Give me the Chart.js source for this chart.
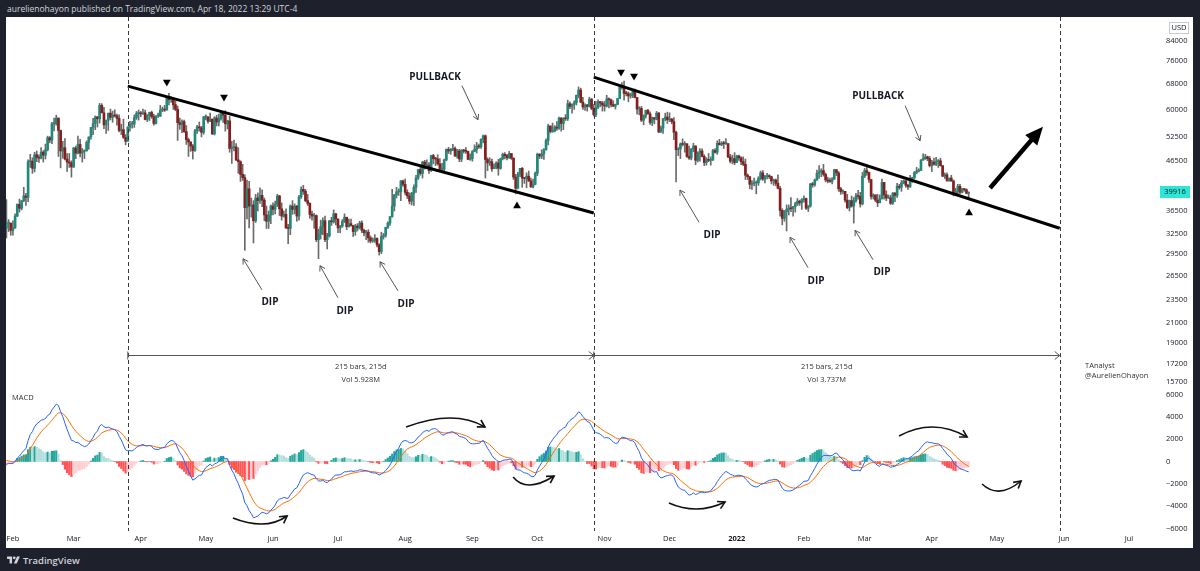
<!DOCTYPE html>
<html>
<head>
<meta charset="utf-8">
<title>BTCUSD daily - trendline breakouts</title>
<script src="https://cdn.jsdelivr.net/npm/chart.js@4.4.0/dist/chart.umd.min.js"></script>
<style>
  html, body { margin: 0; padding: 0; width: 1200px; height: 571px; overflow: hidden; background: #1e212b; font-family: "Open Sans", sans-serif; }
  #head { position: absolute; left: 7px; top: 2px; color: #d1d4dc; font-size: 8.5px; line-height: 14px; white-space: nowrap; }
  #wrap { position: absolute; left: 6px; top: 17px; width: 1187px; height: 531px; background: #fff; }
  #foot { position: absolute; left: 7px; top: 553px; height: 14px; display: flex; align-items: center; color: #d1d4dc; font-size: 9.5px; font-weight: 600; }
  #foot svg { margin-right: 3px; }
</style>
</head>
<body>
<div id="head">aurelienohayon published on TradingView.com, Apr 18, 2022 13:29 UTC-4</div>
<div id="wrap"><canvas id="chart" width="1187" height="531"></canvas></div>
<div id="foot">
  <svg width="13" height="10" viewBox="0 0 36 28"><path d="M14 24H7V11H0V4h14z" fill="#d1d4dc"/><circle cx="20" cy="8" r="4" fill="#d1d4dc"/><path d="M28 4h8l-9 20h-8z" fill="#d1d4dc"/></svg>
  <span>TradingView</span>
</div>
<script>
// days are counted from Jan 1 2021 (day 0); first drawn candle is Jan 29 2021
const firstDay = 28;

// closes before the first candle, only used to warm up the MACD averages (Jan 1 - Jan 28 2021)
const warmupClose = [29.4,32.2,33.0,32.0,34.0,36.8,39.4,40.6,40.2,38.3,35.5,34.0,37.4,39.1,36.8,36.0,35.8,36.6,36.0,35.5,30.8,33.0,32.1,32.3,32.5,32.5,30.4,33.4];

// daily closes, thousands of USD
const closeK = [
  34.3,34.3,33.1, // Jan 29-31
  33.5,35.5,37.6,36.9,38.3,39.2,38.9,46.4,46.5,44.9,48.0,47.4,47.2,48.6,47.9,49.2,52.2,51.6,55.9,55.9,57.5,54.1,48.9,49.7,47.0,46.3,46.1,45.2, // Feb
  49.6,48.4,50.5,48.4,48.8,48.9,51.0,52.4,54.9,56.0,57.8,57.3,61.2,59.0,55.6,56.9,58.9,57.7,58.3,58.1,57.4,54.1,54.3,52.3,51.3,55.0,55.8,55.8,57.6,58.8,58.8, // Mar
  58.7,59.0,57.1,58.2,59.1,57.9,56.0,58.1,58.1,59.8,59.9,59.8,63.5,62.9,63.2,61.4,60.0,56.2,55.7,56.5,53.8,51.7,51.1,50.1,49.0,54.0,55.0,54.8,53.6,57.8, // Apr
  57.8,56.6,57.2,53.2,57.5,56.4,57.4,58.9,58.3,55.9,56.7,49.5,49.7,49.9,46.8,46.4,43.6,42.9,37.0,40.6,37.3,37.5,34.7,38.8,38.3,39.3,38.4,35.7,34.6,35.7,37.3, // May
  36.7,37.6,39.2,36.8,35.5,35.8,33.5,33.4,37.3,36.7,37.3,35.5,39.0,40.5,40.1,38.3,37.8,35.8,35.5,35.6,31.6,32.5,33.7,34.7,31.6,32.2,34.7,34.5,35.9,35.0, // Jun
  33.5,33.8,34.6,35.3,33.7,34.2,33.9,32.9,33.8,33.5,34.3,33.1,32.7,32.8,31.9,31.4,31.5,31.8,30.8,29.8,32.1,32.3,33.6,34.3,35.4,37.3,39.4,40.0,40.0,42.2,41.5, // Jul
  39.9,39.2,38.2,39.7,40.9,42.8,44.6,43.8,46.3,45.6,45.6,44.4,47.8,47.1,47.0,45.9,44.7,44.7,46.8,49.3,48.9,49.3,49.5,47.7,48.9,47.0,49.1,48.9,48.8,46.9,47.1, // Aug
  48.8,49.3,50.0,49.9,51.8,52.7,46.9,46.1,46.4,44.8,45.2,46.1,44.9,47.1,48.1,47.8,47.3,48.3,47.2,43.0,40.7,43.6,44.9,42.8,42.7,43.2,42.2,41.0,41.5,43.8, // Sep
  48.1,47.7,48.2,49.2,51.5,55.3,53.8,53.9,55.0,54.7,57.5,56.0,57.4,57.3,61.7,60.9,61.5,62.0,64.3,66.0,62.2,60.7,61.3,60.9,63.1,60.3,58.5,60.6,62.3,61.9,61.3, // Oct
  61.0,63.2,62.9,61.4,61.0,61.5,63.3,67.5,66.9,64.9,64.8,64.1,64.4,65.5,63.6,60.1,60.3,56.9,58.1,59.7,58.7,56.3,57.6,57.2,58.9,53.7,54.7,57.3,57.8,57.0, // Nov
  57.2,56.5,53.6,49.2,49.4,50.6,50.5,50.6,47.6,47.2,49.4,50.1,46.7,48.4,48.9,47.6,46.2,46.9,46.7,46.9,49.0,48.6,50.8,50.4,50.8,50.7,50.7,47.5,46.5,47.1,46.2, // Dec
  47.7,47.3,46.4,45.8,43.4,43.1,41.5,41.7,41.8,41.8,42.7,43.9,42.6,43.1,43.2,43.1,42.2,42.4,41.7,40.7,36.5,35.1,36.3,36.7,36.9,36.8,37.2,37.7,38.2,37.9,38.5, // Jan 2022
  38.7,36.9,37.3,41.6,41.4,42.4,43.8,44.1,44.4,43.6,42.4,42.2,42.1,42.6,44.6,43.9,40.6,40.0,40.1,38.4,37.0,38.3,37.3,38.3,39.2,39.1,37.7,43.2, // Feb
  44.4,44.0,42.5,39.1,39.4,38.4,37.9,38.7,41.9,39.4,38.8,38.8,37.8,39.7,39.3,41.1,40.9,41.8,42.2,41.3,41.0,42.4,42.9,44.0,44.3,44.5,46.8,47.1,47.5,47.1,45.5, // Mar
  46.3,45.8,46.4,46.6,45.5,43.2,43.5,42.3,42.8,42.2,39.5,40.1,41.1,39.9,40.5,40.4,39.7,39.916 // Apr 1-18
];

const highK = [
  38.5,34.9,34.3,
  34.7,35.9,37.7,38.6,38.3,40.9,39.7,46.8,48.1,47.3,48.6,48.9,48.0,49.7,49.0,50.6,52.6,52.5,56.3,57.5,58.3,57.5,54.2,51.3,52.0,48.3,48.3,46.6,
  49.8,50.1,52.6,51.8,49.5,49.2,51.4,52.4,54.9,57.4,58.1,58.0,61.8,61.7,60.6,56.9,58.9,60.1,59.5,59.9,58.6,58.4,55.8,57.2,53.0,55.1,56.6,56.6,58.4,59.4,59.8,
  59.4,60.1,59.8,58.5,59.2,59.5,58.6,58.2,58.9,61.2,60.7,61.2,63.8,64.9,63.8,63.6,62.5,61.0,57.5,57.0,56.9,55.4,52.1,51.2,50.5,54.4,55.5,56.4,55.2,58.0,
  58.4,57.9,58.9,57.2,57.9,58.3,58.6,59.5,59.2,59.6,56.9,58.0,51.3,51.6,50.7,49.7,46.6,45.8,43.5,42.4,42.1,38.8,38.3,39.5,39.8,40.8,40.4,38.8,37.3,36.4,37.5,
  37.9,38.2,39.5,39.3,37.9,36.4,36.8,34.1,37.5,38.3,37.7,37.4,39.3,41.0,41.3,40.5,39.5,37.9,36.4,36.0,35.7,33.3,34.8,35.2,35.5,32.6,34.7,35.3,36.6,36.0,
  35.0,33.9,34.9,35.9,35.3,35.0,35.0,33.9,34.1,34.2,34.6,34.7,33.3,33.1,33.2,32.2,31.9,32.4,31.9,31.0,32.8,32.6,33.6,34.5,35.4,40.5,39.5,40.9,40.6,42.3,42.4,
  42.6,40.4,39.8,39.9,41.4,43.4,44.7,45.3,46.5,46.7,46.8,46.2,47.9,48.1,47.4,48.0,47.1,46.0,47.0,49.4,49.8,49.5,50.5,49.9,49.3,49.3,49.2,49.3,49.7,48.9,48.2,
  49.0,50.4,51.0,50.6,51.9,52.9,52.9,47.3,47.3,47.0,45.9,46.4,46.9,47.2,48.4,48.5,48.1,48.8,48.3,47.3,43.6,44.0,44.9,45.1,42.9,43.9,44.3,42.8,42.6,44.1,
  48.4,48.3,49.2,49.5,51.9,55.8,55.3,56.1,55.4,56.5,57.8,57.6,57.6,58.5,62.8,62.3,61.7,62.6,64.4,67.0,66.6,63.7,61.7,61.5,63.7,63.3,61.5,62.4,62.9,62.4,62.4,
  62.4,64.3,63.5,63.1,62.6,61.6,63.3,67.8,68.5,69.0,65.6,65.4,65.0,65.6,66.3,63.6,60.8,60.9,58.4,59.8,60.0,59.3,57.8,57.6,59.4,59.1,55.3,57.4,58.9,59.2,
  59.0,57.4,57.6,53.9,49.7,50.9,51.9,51.2,50.8,50.1,49.5,50.8,50.2,48.7,49.5,49.4,48.0,47.3,48.3,47.5,49.3,49.5,51.4,51.8,51.2,51.3,52.0,50.7,48.1,47.9,48.5,
  47.9,47.9,47.5,47.5,47.0,43.7,43.1,42.3,42.8,42.2,43.1,44.3,44.4,43.4,43.8,43.5,43.2,42.6,42.6,43.5,41.1,36.8,36.5,37.5,37.5,38.9,37.2,38.0,38.7,38.4,38.7,
  39.2,38.8,37.4,41.7,41.9,42.6,44.5,45.5,44.8,45.8,43.9,43.0,42.8,42.9,44.7,44.6,44.2,40.9,40.4,40.1,39.5,38.4,39.2,38.9,39.7,40.3,39.9,44.0,
  44.9,45.4,44.1,42.5,39.6,39.4,39.5,39.4,42.6,41.9,40.2,39.4,39.3,39.9,39.9,41.7,41.5,42.3,42.4,42.3,41.5,43.4,43.0,44.2,45.1,44.8,46.9,48.2,48.1,47.7,47.6,
  46.7,47.2,47.4,46.9,47.2,45.5,43.9,43.9,42.8,43.4,42.4,40.7,41.5,41.5,40.7,40.7,40.6,40.0
];

const lowK = [
  31.9,32.9,32.3,
  32.3,33.4,35.4,36.2,36.6,38.1,37.4,38.1,45.1,43.8,44.1,46.4,46.2,47.0,46.3,47.0,48.9,50.9,50.7,54.0,55.5,47.6,45.0,47.2,46.8,44.2,45.1,43.0,
  45.1,47.1,48.2,47.5,46.3,47.1,48.9,49.3,51.8,53.0,54.3,55.0,56.1,59.0,54.6,53.3,54.1,57.0,56.3,57.8,55.5,53.7,53.0,52.0,50.4,51.3,53.9,54.7,54.9,57.1,56.9,
  57.9,58.5,57.0,56.5,56.8,57.4,55.5,55.8,57.7,57.9,59.3,59.4,59.8,61.3,62.1,60.0,59.6,51.5,54.4,53.5,53.6,50.5,47.6,48.8,47.0,48.8,53.3,53.9,52.4,53.1,
  57.0,56.1,56.5,53.0,52.9,55.3,55.3,56.9,56.3,53.9,54.5,48.6,46.0,48.9,46.6,43.8,42.1,42.3,30.0,35.0,33.5,35.3,31.1,34.4,36.4,37.8,37.2,34.7,33.4,33.4,34.2,
  35.7,35.9,37.2,35.6,34.8,35.3,33.4,31.0,32.4,35.8,35.9,34.6,34.8,38.7,39.5,38.1,37.4,35.1,34.8,33.4,31.3,28.8,31.7,32.4,31.3,30.2,32.0,33.9,34.3,34.0,
  32.7,32.7,33.6,34.4,33.2,33.6,33.8,32.1,32.3,33.0,33.3,32.7,32.2,31.6,31.2,31.1,31.2,31.2,30.5,29.3,29.5,31.7,32.0,33.4,33.9,35.3,36.4,38.8,39.3,38.3,41.1,
  39.4,38.7,37.7,37.5,37.4,39.9,42.5,43.4,42.8,44.7,45.3,43.8,44.2,45.9,45.5,45.6,44.4,44.2,43.9,46.6,48.3,48.1,49.0,47.6,47.2,46.4,46.4,48.4,48.3,46.9,46.7,
  46.5,48.7,48.4,49.5,49.5,50.9,42.8,44.4,45.5,44.2,44.8,44.8,43.4,44.7,46.8,47.0,46.8,47.1,46.9,42.5,39.6,40.6,43.1,40.9,41.7,40.8,42.1,40.9,40.8,41.4,
  43.3,47.1,47.1,46.9,49.1,50.4,53.4,53.6,53.7,54.1,54.4,53.9,54.3,56.8,56.8,60.2,58.9,60.0,61.3,63.5,62.0,60.0,59.7,59.5,60.7,59.9,58.1,57.9,60.2,60.8,59.5,
  59.5,60.7,60.4,60.7,60.8,60.1,61.4,63.3,66.3,62.8,64.1,62.3,63.4,63.6,63.5,58.6,58.4,56.5,55.6,57.5,58.6,55.7,55.4,55.9,57.0,53.5,53.6,53.3,56.7,56.0,
  56.5,55.9,51.7,42.0,47.8,47.1,50.1,48.6,47.4,46.9,46.8,48.7,45.7,46.3,46.5,47.5,45.5,45.6,46.4,45.6,46.6,48.4,48.1,50.4,50.2,49.5,50.5,47.3,46.1,45.9,45.7,
  46.2,46.7,45.7,45.5,42.5,42.5,40.6,40.5,41.2,39.6,41.3,42.4,42.3,41.8,42.6,42.7,41.6,41.3,41.2,40.6,35.5,34.0,34.6,33.0,35.7,36.3,35.5,36.2,37.4,37.4,36.7,
  38.0,36.7,36.3,37.1,40.9,41.1,42.3,42.7,43.1,43.2,42.0,41.8,41.9,41.6,42.5,43.3,40.1,39.5,39.6,38.0,36.8,36.4,37.1,34.3,38.0,38.6,37.1,37.5,
  42.9,43.4,41.9,38.6,38.6,38.1,37.2,37.9,38.6,38.6,38.3,38.7,37.6,37.6,38.1,38.9,40.5,40.1,41.6,40.9,40.5,40.9,41.9,42.6,43.7,44.1,44.4,46.7,46.9,46.6,45.2,
  44.2,45.6,45.5,45.1,45.4,43.1,42.7,42.1,42.1,42.1,39.2,39.3,39.6,39.6,39.8,40.1,39.6,38.6
];

const lastPrice = 39916;
const priceTicks = [15700, 17200, 19000, 21000, 23500, 26500, 29500, 32500, 36500, 46500, 52500, 60000, 68000, 76000, 84000];
const macdTicks = [-6000, -4000, -2000, 0, 2000, 4000, 6000];
const monthDays = [31, 59, 90, 120, 151, 181, 212, 243, 273, 304, 334, 365, 396, 424, 455, 485, 516, 546];
const monthLabels = ['Feb', 'Mar', 'Apr', 'May', 'Jun', 'Jul', 'Aug', 'Sep', 'Oct', 'Nov', 'Dec', '2022', 'Feb', 'Mar', 'Apr', 'May', 'Jun', 'Jul'];

// drawings, in [day, price] or [day, macd]
const sessionDays = [84, 299, 514];
const trend1 = [[84, 67290], [299, 36040]];
const trend2 = [[299, 70300], [514, 33440]];
const topMarks = [[102, 68620], [128.4, 63740], [311.6, 72150], [317.6, 70740]];
const bottomMarks = [[263.6, 37290], [472.2, 36040]];
const dipText = [[149.6, 23290], [184.2, 22280], [212.4, 23060], [353.6, 32290], [401.6, 25830], [432, 27000]];
const dipArrows = [[145.9, 24700, 137.2, 28780], [181, 23750, 172.7, 27810], [208.7, 24580, 200.4, 28360],
                   [347.6, 34420, 338.8, 40350], [397.9, 27540, 389.6, 31980], [427.9, 28640, 419.6, 33090]];
const pullText = [[225.8, 70450], [430.2, 64160]];
const pullArrows = [[238.2, 67400, 245.6, 57030], [442.7, 61100, 449.6, 51420]];
const bigArrow = [481.9, 40750, 506.3, 55100];
const measures = [
  { from: 84, to: 299, bars: '215 bars, 215d', vol: 'Vol 5.928M' },
  { from: 299, to: 514, bars: '215 bars, 215d', vol: 'Vol 3.737M' }
];
const measureLevel = 17940, measureBarsAt = 16910, measureVolAt = 15860;
const signature = [[525.7, 16990, 'TAnalyst'], [525.7, 16180, '@AurelienOhayon']];
const macdArcs = [ // start, apex, end
  [132.5, -5067, 146.4, -5606, 157.5, -4888],
  [212.4, 3094, 232.7, 3901, 248.8, 3094],
  [261.8, -1390, 269.6, -2108, 280.7, -1300],
  [333.7, -3722, 346.7, -4260, 359.6, -3633],
  [439.9, 2287, 455.6, 3094, 471.3, 2197],
  [478.2, -2018, 486.5, -2646, 496.2, -1749]
];

const upColor = '#22897a';
const downColor = '#861e1e';
const wickColor = '#6b6b6b';

// candles
const wickData = [], bodyData = [], bodyColors = [];
closeK.forEach((c, i) => {
  const o = i === 0 ? warmupClose[warmupClose.length - 1] : closeK[i - 1];
  const hi = Math.max(highK[i] || c, o, c);
  const lo = Math.min(lowK[i] || c, o, c);
  const d = firstDay + i;
  wickData.push({ x: d, y: [lo * 1000, hi * 1000] });
  bodyData.push({ x: d, y: [o * 1000, c * 1000] });
  bodyColors.push(c >= o ? upColor : downColor);
});

// MACD 12 26 9 from the closes
function ema(src, len) {
  const a = 2 / (len + 1);
  const out = [];
  let e = src[0];
  src.forEach((v, i) => {
    e = i === 0 ? v : a * v + (1 - a) * e;
    out.push(e);
  });
  return out;
}
const allClose = warmupClose.concat(closeK).map(v => v * 1000);
const fast = ema(allClose, 12);
const slow = ema(allClose, 26);
const macdAll = fast.map((v, i) => v - slow[i]);
const signalAll = ema(macdAll, 9);
const histAll = macdAll.map((v, i) => v - signalAll[i]);
const skip = warmupClose.length;
const macdData = [], signalData = [], histData = [], histColors = [];
for (let i = skip; i < allClose.length; i++) {
  const d = firstDay + i - skip;
  macdData.push({ x: d, y: macdAll[i] });
  signalData.push({ x: d, y: signalAll[i] });
  histData.push({ x: d, y: histAll[i] });
  const h = histAll[i], prev = histAll[i - 1];
  if (h >= 0) histColors.push(prev < h ? '#26a69a' : '#b2dfdb');
  else histColors.push(prev < h ? '#ffcdd2' : '#ff5252');
}

function arrowHead(ctx, x1, y1, x2, y2, len, wid, filled) {
  const a = Math.atan2(y2 - y1, x2 - x1);
  const bx = x2 - len * Math.cos(a), by = y2 - len * Math.sin(a);
  ctx.beginPath();
  ctx.moveTo(bx + wid * Math.sin(a), by - wid * Math.cos(a));
  ctx.lineTo(x2, y2);
  ctx.lineTo(bx - wid * Math.sin(a), by + wid * Math.cos(a));
  if (filled) { ctx.closePath(); ctx.fill(); } else ctx.stroke();
}

const drawings = {
  id: 'drawings',
  afterDatasetsDraw(chart) {
    const { ctx, chartArea } = chart;
    const xs = chart.scales.x, yp = chart.scales.y, ym = chart.scales.y2;
    const X = d => xs.getPixelForValue(d);
    ctx.save();

    // session separators
    ctx.strokeStyle = '#3a3a3a';
    ctx.lineWidth = 1;
    ctx.setLineDash([4, 3]);
    sessionDays.forEach(d => {
      const px = Math.round(X(d)) + 0.5;
      ctx.beginPath();
      ctx.moveTo(px, chartArea.top);
      ctx.lineTo(px, chartArea.bottom);
      ctx.stroke();
    });
    ctx.setLineDash([]);

    // date range measures
    ctx.strokeStyle = '#555';
    ctx.fillStyle = '#333';
    ctx.font = '7.5px "Open Sans"';
    ctx.textAlign = 'center';
    ctx.textBaseline = 'middle';
    const my = Math.round(yp.getPixelForValue(measureLevel)) + 0.5;
    measures.forEach(m => {
      const x1 = X(m.from), x2 = X(m.to);
      ctx.beginPath();
      ctx.moveTo(x1, my); ctx.lineTo(x2, my);
      ctx.moveTo(x1, my - 4); ctx.lineTo(x1, my + 4);
      ctx.stroke();
      arrowHead(ctx, x1, my, x2, my, 5, 4, false);
      const cx = (x1 + x2) / 2;
      ctx.fillText(m.bars, cx, yp.getPixelForValue(measureBarsAt));
      ctx.fillText(m.vol, cx, yp.getPixelForValue(measureVolAt));
    });

    ctx.textAlign = 'left';
    signature.forEach(s => ctx.fillText(s[2], X(s[0]), yp.getPixelForValue(s[1])));
    ctx.fillText('MACD', X(30.6), ym.getPixelForValue(5695));

    // thin pointer arrows
    ctx.strokeStyle = '#555';
    ctx.lineWidth = 1;
    dipArrows.concat(pullArrows).forEach(a => {
      const x1 = X(a[0]), y1 = yp.getPixelForValue(a[1]);
      const x2 = X(a[2]), y2 = yp.getPixelForValue(a[3]);
      ctx.beginPath(); ctx.moveTo(x1, y1); ctx.lineTo(x2, y2); ctx.stroke();
      arrowHead(ctx, x1, y1, x2, y2, 5, 3, false);
    });

    // labels
    ctx.fillStyle = '#131722';
    ctx.font = 'bold 10px "Open Sans"';
    ctx.textAlign = 'center';
    dipText.forEach(t => ctx.fillText('DIP', X(t[0]), yp.getPixelForValue(t[1])));
    pullText.forEach(t => ctx.fillText('PULLBACK', X(t[0]), yp.getPixelForValue(t[1])));

    // big arrow
    {
      const x1 = X(bigArrow[0]), y1 = yp.getPixelForValue(bigArrow[1]);
      const x2 = X(bigArrow[2]), y2 = yp.getPixelForValue(bigArrow[3]);
      const a = Math.atan2(y2 - y1, x2 - x1);
      ctx.strokeStyle = '#000';
      ctx.fillStyle = '#000';
      ctx.lineWidth = 4.5;
      ctx.beginPath();
      ctx.moveTo(x1, y1);
      ctx.lineTo(x2 - 12 * Math.cos(a), y2 - 12 * Math.sin(a));
      ctx.stroke();
      arrowHead(ctx, x1, y1, x2, y2, 18, 8, true);
    }

    // curved arrows on the MACD pane
    ctx.strokeStyle = '#111';
    ctx.lineWidth = 1.6;
    macdArcs.forEach(c => {
      const sx = X(c[0]), sy = ym.getPixelForValue(c[1]);
      const mx = X(c[2]), my2 = ym.getPixelForValue(c[3]);
      const ex = X(c[4]), ey = ym.getPixelForValue(c[5]);
      const cx = 2 * mx - (sx + ex) / 2, cy = 2 * my2 - (sy + ey) / 2;
      ctx.beginPath();
      ctx.moveTo(sx, sy);
      ctx.quadraticCurveTo(cx, cy, ex, ey);
      ctx.stroke();
      arrowHead(ctx, cx, cy, ex, ey, 7, 4, false);
    });

    ctx.restore();
  },
  afterDraw(chart) {
    const { ctx } = chart;
    const yp = chart.scales.y;
    ctx.save();
    // last price tag
    const py = Math.round(yp.getPixelForValue(lastPrice));
    ctx.fillStyle = '#2ee6d6';
    ctx.fillRect(yp.left, py - 6, 30, 12);
    ctx.fillStyle = '#131722';
    ctx.font = '7.5px "Open Sans"';
    ctx.textAlign = 'center';
    ctx.textBaseline = 'middle';
    ctx.fillText(String(lastPrice), yp.left + 15, py);
    // currency box
    ctx.strokeStyle = '#c9cbd1';
    ctx.lineWidth = 1;
    ctx.strokeRect(yp.left + 9.5, 5.5, 19, 11);
    ctx.fillText('USD', yp.left + 19, 11);
    ctx.restore();
  }
};

const axisFont = { size: 7.5, family: '"Open Sans"' };
// keep the plot flush with the frame: no room reserved for half tick labels
const noPad = s => { s.paddingLeft = 0; s.paddingRight = 0; s.paddingTop = 0; s.paddingBottom = 0; };

new Chart(document.getElementById('chart'), {
  type: 'bar',
  data: {
    datasets: [
      { type: 'line', yAxisID: 'y', data: trend1.map(p => ({ x: p[0], y: p[1] })), borderColor: '#000', borderWidth: 3, pointRadius: 0, order: 0 },
      { type: 'line', yAxisID: 'y', data: trend2.map(p => ({ x: p[0], y: p[1] })), borderColor: '#000', borderWidth: 3, pointRadius: 0, order: 0 },
      { type: 'line', yAxisID: 'y', data: topMarks.map(p => ({ x: p[0], y: p[1] })), showLine: false, pointStyle: 'triangle', pointRotation: 180, pointRadius: 4.5, pointBackgroundColor: '#000', pointBorderWidth: 0, order: 0 },
      { type: 'line', yAxisID: 'y', data: bottomMarks.map(p => ({ x: p[0], y: p[1] })), showLine: false, pointStyle: 'triangle', pointRadius: 4.5, pointBackgroundColor: '#000', pointBorderWidth: 0, order: 0 },
      { type: 'line', yAxisID: 'y2', data: macdData, borderColor: '#2962ff', borderWidth: 1, pointRadius: 0, order: 1 },
      { type: 'line', yAxisID: 'y2', data: signalData, borderColor: '#ff6d00', borderWidth: 1, pointRadius: 0, order: 1 },
      { yAxisID: 'y', data: bodyData, backgroundColor: bodyColors, barThickness: 2, minBarLength: 1, grouped: false, order: 2 },
      { yAxisID: 'y', data: wickData, backgroundColor: wickColor, barThickness: 1, grouped: false, order: 3 },
      { yAxisID: 'y2', data: histData, backgroundColor: histColors, barThickness: 1.5, grouped: false, order: 4 }
    ]
  },
  options: {
    responsive: false,
    animation: false,
    devicePixelRatio: 1,
    layout: { padding: 0, autoPadding: false },
    plugins: { legend: { display: false }, tooltip: { enabled: false } },
    scales: {
      x: {
        type: 'linear', min: 27.8, max: 560.3, offset: false, bounds: 'data',
        grid: { display: false, drawTicks: false }, border: { display: false },
        afterBuildTicks: s => { s.ticks = monthDays.map(v => ({ value: v })); },
        afterFit: s => { s.height = 17; noPad(s); },
        ticks: {
          autoSkip: false, maxRotation: 0, padding: 3, color: '#131722',
          font: c => ({ size: 7.5, family: '"Open Sans"', weight: c.tick && c.tick.value === 365 ? 'bold' : 'normal' }),
          callback: (v, i) => monthLabels[i]
        }
      },
      y: {
        type: 'logarithmic', position: 'right', stack: 'panes', stackWeight: 371,
        min: 15240, max: 94520, bounds: 'data',
        grid: { display: false, drawTicks: false }, border: { display: false },
        afterBuildTicks: s => { s.ticks = priceTicks.map(v => ({ value: v })); },
        afterFit: s => { s.width = 33; noPad(s); },
        ticks: { padding: 6, color: '#131722', font: axisFont, callback: v => String(v) }
      },
      y2: {
        type: 'linear', position: 'right', stack: 'panes', stackWeight: 143,
        min: -6233, max: 6592, bounds: 'data',
        grid: { display: false, drawTicks: false }, border: { display: false },
        afterBuildTicks: s => { s.ticks = macdTicks.map(v => ({ value: v })); },
        afterFit: s => { s.width = 33; noPad(s); },
        ticks: { padding: 6, color: '#131722', font: axisFont, callback: v => String(v).replace('-', '\u2212') }
      }
    }
  },
  plugins: [drawings]
});
</script>
</body>
</html>
